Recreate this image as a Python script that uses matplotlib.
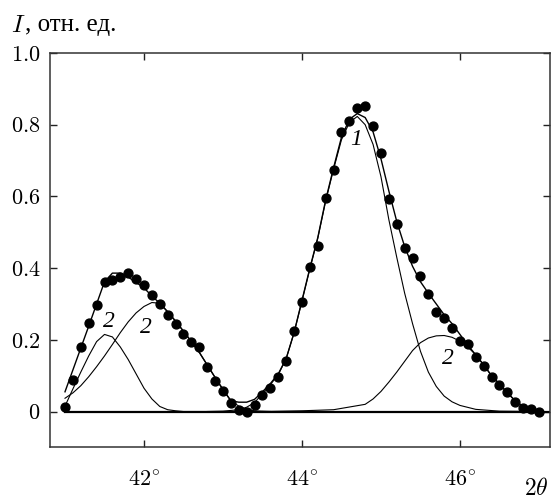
import matplotlib
matplotlib.use("Agg")
import matplotlib.pyplot as plt

plt.rcParams['mathtext.fontset'] = 'cm'
plt.rcParams['font.family'] = ['cmr10', 'Liberation Serif', 'DejaVu Serif']
plt.rcParams['axes.unicode_minus'] = False

# ---- data ----
angle = [41.0, 41.1, 41.2, 41.3, 41.4, 41.5, 41.6, 41.7, 41.8, 41.9,
         42.0, 42.1, 42.2, 42.3, 42.4, 42.5, 42.6, 42.7, 42.8, 42.9,
         43.0, 43.1, 43.2, 43.3, 43.4, 43.5, 43.6, 43.7, 43.8, 43.9,
         44.0, 44.1, 44.2, 44.3, 44.4, 44.5, 44.6, 44.7, 44.8, 44.9,
         45.0, 45.1, 45.2, 45.3, 45.4, 45.5, 45.6, 45.7, 45.8, 45.9,
         46.0, 46.1, 46.2, 46.3, 46.4, 46.5, 46.6, 46.7, 46.8, 46.9, 47.0]

measured = [0.013, 0.088, 0.181, 0.247, 0.296, 0.361, 0.368, 0.375, 0.385, 0.370,
            0.354, 0.324, 0.301, 0.268, 0.245, 0.215, 0.193, 0.180, 0.125, 0.086,
            0.057, 0.024, 0.004, -0.001, 0.017, 0.045, 0.065, 0.095, 0.142, 0.225,
            0.305, 0.403, 0.463, 0.596, 0.674, 0.780, 0.811, 0.846, 0.851, 0.797,
            0.722, 0.592, 0.524, 0.455, 0.427, 0.379, 0.329, 0.277, 0.261, 0.234,
            0.198, 0.189, 0.153, 0.127, 0.097, 0.074, 0.055, 0.026, 0.009, 0.007, -0.002]

fit_total = [0.055, 0.116, 0.177, 0.238, 0.300, 0.362, 0.386, 0.386, 0.375, 0.360,
             0.345, 0.322, 0.302, 0.278, 0.252, 0.224, 0.195, 0.165, 0.130, 0.095,
             0.062, 0.030, 0.026, 0.026, 0.034, 0.055, 0.078, 0.105, 0.148, 0.220,
             0.310, 0.400, 0.485, 0.590, 0.680, 0.765, 0.815, 0.831, 0.820, 0.780,
             0.705, 0.615, 0.530, 0.460, 0.405, 0.362, 0.330, 0.300, 0.270, 0.245,
             0.215, 0.185, 0.158, 0.130, 0.100, 0.077, 0.052, 0.030, 0.013, 0.004, 0.0]

# component 2 (narrow, left)
c2a_x = [41.0, 41.1, 41.2, 41.3, 41.4, 41.5, 41.6, 41.7, 41.8, 41.9,
         42.0, 42.1, 42.2, 42.3, 42.4, 42.5, 43.3]
c2a_y = [0.015, 0.063, 0.110, 0.155, 0.195, 0.215, 0.208, 0.180, 0.145, 0.105,
         0.065, 0.035, 0.014, 0.005, 0.002, 0.0, 0.0]

# component 2 (broad, left)
c2b_x = [41.0, 41.1, 41.2, 41.3, 41.4, 41.5, 41.6, 41.7, 41.8, 41.9,
         42.0, 42.1, 42.2, 42.3, 42.4, 42.5, 42.6, 42.7, 42.8, 42.9,
         43.0, 43.1, 43.2, 43.3, 43.4, 43.6]
c2b_y = [0.037, 0.052, 0.072, 0.097, 0.125, 0.155, 0.187, 0.220, 0.250, 0.275,
         0.293, 0.304, 0.302, 0.278, 0.252, 0.224, 0.195, 0.165, 0.130, 0.095,
         0.060, 0.030, 0.015, 0.006, 0.002, 0.0]

# component 1 (main peak)
c1_x = [42.8, 43.0, 43.2, 43.3, 43.4, 43.5, 43.6, 43.7, 43.8, 43.9,
        44.0, 44.1, 44.2, 44.3, 44.4, 44.5, 44.6, 44.7, 44.8, 44.9,
        45.0, 45.1, 45.2, 45.3, 45.4, 45.5, 45.6, 45.7, 45.8, 45.9,
        46.0, 46.2, 46.5, 47.0]
c1_y = [0.0, 0.001, 0.005, 0.012, 0.025, 0.050, 0.075, 0.103, 0.147, 0.220,
        0.308, 0.398, 0.483, 0.587, 0.676, 0.758, 0.806, 0.823, 0.800, 0.745,
        0.655, 0.535, 0.430, 0.330, 0.245, 0.168, 0.110, 0.070, 0.043, 0.027,
        0.017, 0.006, 0.001, 0.0]

# component 2 (right shoulder)
c2c_x = [43.5, 44.0, 44.4, 44.8, 44.9, 45.0, 45.1, 45.2, 45.3, 45.4,
         45.5, 45.6, 45.7, 45.8, 45.9, 46.0, 46.1, 46.2, 46.3, 46.4,
         46.5, 46.6, 46.7, 46.8, 46.9, 47.0]
c2c_y = [0.0, 0.002, 0.005, 0.020, 0.035, 0.056, 0.082, 0.110, 0.140, 0.170,
         0.192, 0.205, 0.211, 0.212, 0.207, 0.196, 0.180, 0.158, 0.130, 0.100,
         0.077, 0.052, 0.030, 0.013, 0.004, 0.0]

baseline_x = [41.0, 47.14]
baseline_y = [0.0, 0.0]

xticks = [42, 44, 46]
xtick_labels = [r'$42^{\!\circ}$', r'$44^{\!\circ}$', r'$46^{\!\circ}$']
yticks = [0.0, 0.2, 0.4, 0.6, 0.8, 1.0]
ytick_labels = [r'$0$', r'$0.2$', r'$0.4$', r'$0.6$', r'$0.8$', r'$1.0$']

labels = [(r'2', 41.56, 0.252), (r'2', 42.03, 0.234), (r'1', 44.69, 0.760), (r'2', 45.85, 0.149)]

# ---- figure ----
W, H = 551, 499
fig = plt.figure(figsize=(W / 100, H / 100), dpi=100)
ax = fig.add_axes([50 / W, 52 / H, 500 / W, 394 / H])

ax.plot(baseline_x, baseline_y, color='black', lw=1.6, zorder=2)
ax.plot(c2a_x, c2a_y, color='black', lw=0.8, zorder=3)
ax.plot(c2b_x, c2b_y, color='black', lw=0.8, zorder=3)
ax.plot(c1_x, c1_y, color='black', lw=0.8, zorder=3)
ax.plot(c2c_x, c2c_y, color='black', lw=0.8, zorder=3)
ax.plot(angle, fit_total, color='black', lw=1.0, zorder=3)
ax.plot(angle, measured, linestyle='none', marker='o', ms=6.4,
        color='black', zorder=4)

for txt, x, y in labels:
    ax.text(x, y, txt, fontsize=17, fontstyle='italic', family='Liberation Serif',
            ha='center', va='center', zorder=5)

ax.set_xlim(40.81, 47.14)
ax.set_ylim(-0.099, 1.0)
ax.set_xticks(xticks)
ax.set_xticklabels(xtick_labels)
ax.set_yticks(yticks)
ax.set_yticklabels(ytick_labels)
ax.tick_params(axis='both', direction='in', length=5, width=1.0,
               top=True, right=True, labelsize=16, color='#222222')
ax.tick_params(axis='x', pad=17)
ax.tick_params(axis='y', pad=7)
for sp in ax.spines.values():
    sp.set_linewidth(1.1)
    sp.set_color('#333333')

fig.text(11 / W, 1 - 31.5 / H, r'$I$', fontsize=18, ha='left', va='baseline')
fig.text(25 / W, 1 - 31.5 / H, ', отн. ед.', fontsize=18, ha='left', va='baseline',
         family=['Liberation Serif', 'DejaVu Serif'])
fig.text(1 - 2 / W, 1 - 489 / H, r'$2\theta$', fontsize=17, ha='right', va='center')

fig.savefig('out.png', dpi=100)
